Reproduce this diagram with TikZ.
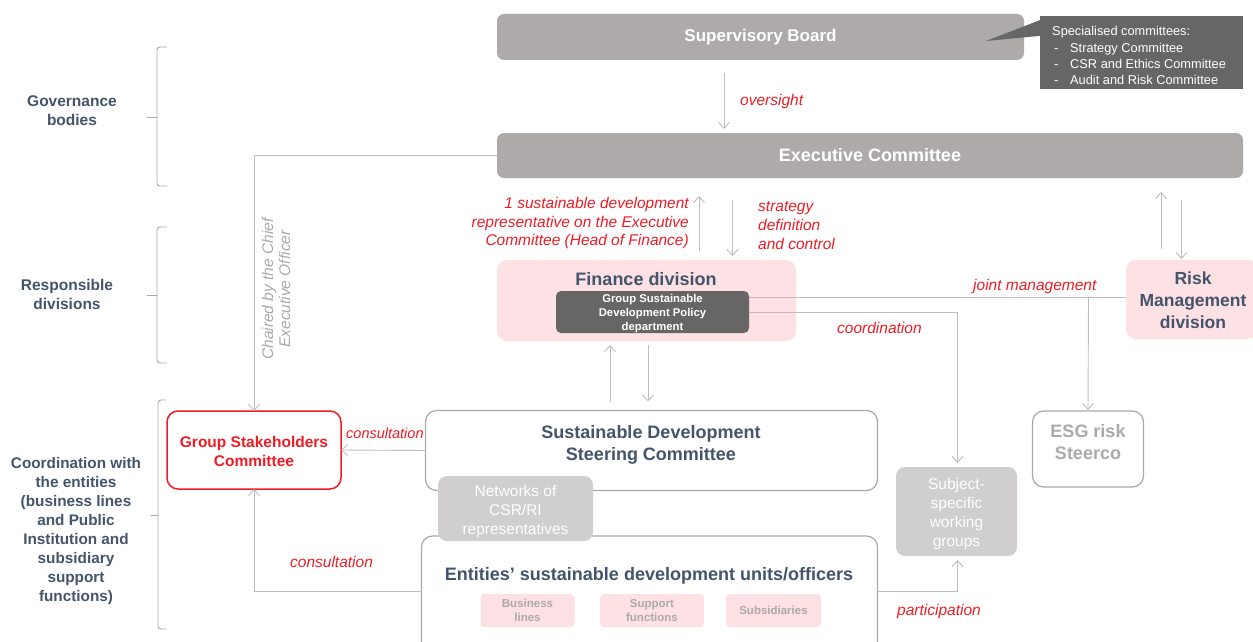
\documentclass[tikz,border=0pt]{standalone}
\usepackage{fontspec}
\setmainfont{Liberation Sans}
\usetikzlibrary{arrows.meta,calc}

\definecolor{slate}{HTML}{44546A}
\definecolor{redtxt}{HTML}{EE1C25}
\definecolor{boardgray}{HTML}{AEAAAA}
\definecolor{darkfill}{HTML}{666666}
\definecolor{pinkfill}{HTML}{FDE1E4}
\definecolor{lightfill}{HTML}{D0CECE}
\definecolor{linegray}{HTML}{BDBDBD}
\definecolor{bordergray}{HTML}{A9A9A9}
\definecolor{softtext}{HTML}{ADA9A9}

\newcommand\fsz[2]{\fontsize{#1}{#2}\selectfont}

\begin{document}
\begin{tikzpicture}[x=1pt,y=-1pt,
  box/.style={rounded corners=7pt, inner sep=0pt, outer sep=0pt},
  greybar/.style={box, fill=boardgray, text=white},
  pinkbox/.style={box, fill=pinkfill, rounded corners=10pt},
  openbox/.style={box, draw=bordergray, line width=1.2pt, fill=white, rounded corners=11pt},
  softbox/.style={box, fill=lightfill, rounded corners=9pt},
  softtxt/.style={text=white, font=\fsz{15.5}{19}, align=center, inner sep=0pt},
  subbox/.style={box, fill=pinkfill, rounded corners=4pt, text=softtext, font=\fsz{11.5}{14}\bfseries, align=center},
  title/.style={text=slate, font=\fsz{17.5}{22}\bfseries, align=center, inner sep=0pt},
  conn/.style={draw=linegray, line width=0.9pt},
  arr/.style={conn, -{Straight Barb[length=6pt,width=11pt,line width=0.9pt]}},
  redlbl/.style={text=redtxt, font=\fsz{15.5}{18.7}\itshape, inner sep=0pt},
  sidelbl/.style={text=slate, font=\fsz{15.3}{19}\bfseries, align=center, inner sep=0pt},
  brace/.style={draw=bordergray, line width=0.9pt, rounded corners=3pt},
]
\useasboundingbox (0,0) rectangle (1253,642);

% ---------- governance bodies ----------
\node[greybar, font=\fsz{17}{20}\bfseries, minimum width=527pt, minimum height=46pt] (sb) at (760.5,37) {Supervisory Board};
\node[greybar, font=\fsz{18}{20}\bfseries, minimum width=746pt, minimum height=45pt] (exco) at (870,155.5) {Executive Committee};

% callout listing the specialised committees
\node[fill=darkfill, inner sep=0pt, minimum width=203pt, minimum height=73pt] (spc) at (1141.5,52.5) {};
\fill[darkfill] ($(sb.east)+(-38,4)$) -- ($(spc.north west)+(1,4)$) -- ($(spc.north west)+(1,20)$) -- cycle;
\node[anchor=west, text=white, font=\fsz{12.8}{16.1}, align=left, inner sep=0pt] (spctext) at (1052,55.5)
  {Specialised committees:\\
   \hspace*{2pt}\makebox[16pt][l]{-}Strategy Committee\\
   \hspace*{2pt}\makebox[16pt][l]{-}CSR and Ethics Committee\\
   \hspace*{2pt}\makebox[16pt][l]{-}Audit and Risk Committee};

% ---------- responsible divisions ----------
\node[pinkbox, minimum width=299pt, minimum height=81pt] (fin) at (646.5,300.5) {};
\node[title, font=\fsz{18}{22}\bfseries] (fintitle) at (646,279.5) {Finance division};
\node[box, fill=darkfill, rounded corners=5pt, minimum width=193pt, minimum height=42pt] (dept) at (652.5,312) {};
\node[text=white, font=\fsz{11.3}{14}\bfseries, align=center, inner sep=0pt] (depttext) at (652.5,313.5) {Group Sustainable\\Development Policy\\department};

\node[pinkbox, minimum width=132pt, minimum height=79pt] (risk) at (1192,299.5) {};
\node[title] (risktitle) at (1193,300.5) {Risk\\Management\\division};

% ---------- coordination with the entities ----------
\node[openbox, draw=redtxt, line width=1.5pt, minimum width=174pt, minimum height=78pt] (gsc) at (254,450) {};
\node[text=redtxt, font=\fsz{15.5}{19}\bfseries, align=center, inner sep=0pt] (gsctext) at (254,451.5) {Group Stakeholders\\Committee};

\node[openbox, minimum width=452pt, minimum height=80pt] (sdsc) at (651.5,450.5) {};
\node[title, font=\fsz{18}{22}\bfseries] (sdsctitle) at (651,444.5) {Sustainable Development\\Steering Committee};

\node[openbox, minimum width=456pt, minimum height=130pt] (ent) at (649.5,601) {};
\node[title, font=\fsz{18}{22}\bfseries] (enttitle) at (649,575.5) {Entities’ sustainable development units/officers};
\node[subbox, minimum width=94pt, minimum height=33pt] (bl) at (527.5,610.5) {Business\\lines};
\node[subbox, minimum width=104pt, minimum height=33pt] (sf) at (652,610.5) {Support\\functions};
\node[subbox, minimum width=95pt, minimum height=33pt] (subs) at (773.5,610.5) {Subsidiaries};

\node[softbox, minimum width=155pt, minimum height=65pt] (net) at (515.5,508.5) {};
\node[softtxt] (nettext) at (515.5,511) {Networks of\\CSR/RI\\representatives};
\node[softbox, minimum width=121pt, minimum height=89pt] (subj) at (956.5,511.5) {};
\node[softtxt] (subjtext) at (956.5,514) {Subject-\\specific\\working\\groups};

\node[openbox, minimum width=111pt, minimum height=76pt] (esg) at (1088,449) {};
\node[text=softtext, font=\fsz{18}{22}\bfseries, align=center, inner sep=0pt] (esgtext) at (1088,442) {ESG risk\\Steerco};

% ---------- connectors ----------
\coordinate (ovx) at (724,0);
\draw[arr] ($(sb.south -| ovx)+(0,13)$) -- ($(exco.north -| ovx)+(0,-4)$);
\node[redlbl, anchor=west] (ovl) at (740,101) {oversight};

% chaired by the CEO
\draw[arr] (exco.west) -| (gsc.north);
\node[text=bordergray, font=\fsz{15.5}{17}\itshape, align=center, rotate=90, inner sep=0pt] (chair) at (276,289) {Chaired by the Chief\\Executive Officer};

% Executive Committee <-> Finance division
\coordinate (upx) at (699,0);
\coordinate (dnx) at (732.5,0);
\draw[arr] ($(fin.north -| upx)+(0,-9)$) -- ($(exco.south -| upx)+(0,18)$);
\draw[arr] ($(exco.south -| dnx)+(0,22)$) -- ($(fin.north -| dnx)+(0,-4)$);
\node[redlbl, anchor=east, align=right] (reprl) at (689,223) {1 sustainable development\\representative on the Executive\\Committee (Head of Finance)};
\node[redlbl, anchor=west, align=left] (stratl) at (758,225.5) {strategy\\definition\\and control};

% Executive Committee <-> Risk Management division
\coordinate (rupx) at (1161,0);
\coordinate (rdnx) at (1181.5,0);
\draw[arr] ($(risk.north -| rupx)+(0,-11)$) -- ($(exco.south -| rupx)+(0,14)$);
\draw[arr] ($(exco.south -| rdnx)+(0,22)$) -- ($(risk.north -| rdnx)+(0,-1)$);

% joint management and coordination lines
\coordinate (jm) at (1088.5,297.5);
\coordinate (co) at (957.5,312.5);
\draw[conn] (dept.east |- jm) -- (jm) -- (risk.west |- jm);
\draw[arr] (jm) -- ($(esg.north)+(0,-1)$);
\draw[arr] (dept.east |- co) -- (co) -- ($(subj.north -| co)+(0,-4)$);
\node[redlbl, anchor=west] (jml) at (973,286) {joint management};
\node[redlbl, anchor=west] (col) at (837,328) {coordination};

% Finance division <-> Steering Committee
\coordinate (fupx) at (610,0);
\coordinate (fdnx) at (648,0);
\draw[arr] ($(sdsc.north -| fupx)+(0,-9)$) -- ($(fin.south -| fupx)+(0,4)$);
\draw[arr] ($(fin.south -| fdnx)+(0,4)$) -- ($(sdsc.north -| fdnx)+(0,-9)$);

% consultation of the Group Stakeholders Committee
\draw[arr] (sdsc.west) -- (gsc.east);
\node[redlbl, font=\fsz{14.5}{18}\itshape, anchor=west] (cons1) at (346,433) {consultation};
\coordinate (entl) at (421.5,591.5);
\draw[arr] (entl) -| (gsc.south);
\node[redlbl, anchor=west] (cons2) at (290,562) {consultation};

% participation in the working groups
\coordinate (entr) at (877.5,591.5);
\draw[arr] (entr) -| ($(subj.south -| co)+(0,4)$);
\node[redlbl, anchor=west] (partl) at (897,611) {participation};

% ---------- side brackets and labels ----------
\draw[brace] (167,47) -- (157,47) -- (157,186) -- (167,186);
\draw[brace, rounded corners=0pt] (147,117.5) -- (157,117.5);
\node[sidelbl, font=\fsz{15.5}{19}\bfseries] (gov) at (72,111) {Governance\\bodies};

\draw[brace] (167,227) -- (157,227) -- (157,363) -- (167,363);
\draw[brace, rounded corners=0pt] (147,295) -- (157,295);
\node[sidelbl, font=\fsz{15.5}{19}\bfseries] (resp) at (67,294.5) {Responsible\\divisions};

\draw[brace] (166,400) -- (158,400) -- (158,629) -- (166,629);
\draw[brace, rounded corners=0pt] (151,515) -- (158,515);
\node[sidelbl] (coord) at (76,531.5) {Coordination with\\the entities\\(business lines\\and Public\\Institution and\\subsidiary\\support\\functions)};
\end{tikzpicture}
\end{document}
